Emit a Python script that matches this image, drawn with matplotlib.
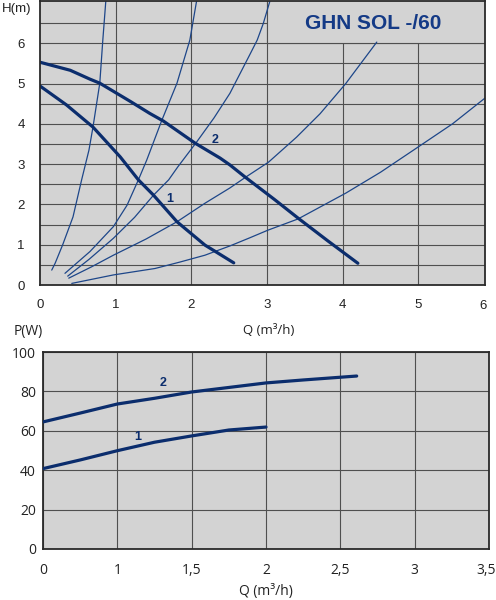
import numpy as np
import matplotlib
matplotlib.use("Agg")
import matplotlib.pyplot as plt
from matplotlib.patches import Rectangle
from matplotlib.transforms import ScaledTranslation

# ---------------- data: H(Q) chart ----------------
pump1_q = [0, 0.35, 0.70, 1.06, 1.30, 1.50, 1.81, 2.18, 2.31, 2.56]
pump1_h = [4.94, 4.47, 3.92, 3.18, 2.61, 2.23, 1.57, 0.99, 0.84, 0.55]
pump2_q = [0, 0.4, 0.66, 0.79, 1.2, 1.45, 1.63, 2.05, 2.38, 2.51, 2.71, 3.1, 3.41, 3.8, 4.2]
pump2_h = [5.53, 5.33, 5.11, 5.01, 4.55, 4.26, 4.07, 3.52, 3.15, 2.98, 2.68, 2.12, 1.66, 1.1, 0.54]

sysA_q = [0.155, 0.20, 0.30, 0.436, 0.55, 0.647, 0.70, 0.79, 0.83, 0.87]
sysA_h = [0.37, 0.54, 1.0, 1.69, 2.61, 3.35, 3.92, 5.01, 6.08, 7.06]
sysB_q = [0.33, 0.66, 0.97, 1.15, 1.30, 1.41, 1.61, 1.81, 1.98, 2.07]
sysB_h = [0.29, 0.83, 1.45, 1.98, 2.61, 3.1, 4.09, 5.01, 6.08, 7.06]
sysC_q = [0.366, 0.65, 0.97, 1.25, 1.50, 1.70, 1.82, 2.07, 2.30, 2.51, 2.60, 2.77, 2.87, 2.95, 3.04]
sysC_h = [0.22, 0.64, 1.16, 1.68, 2.23, 2.61, 2.93, 3.55, 4.15, 4.76, 5.09, 5.71, 6.08, 6.49, 7.06]
sysD_q = [0.38, 0.68, 0.97, 1.40, 1.81, 2.18, 2.51, 2.72, 3.02, 3.39, 3.70, 4.04, 4.45]
sysD_h = [0.17, 0.45, 0.74, 1.14, 1.57, 2.03, 2.41, 2.68, 3.05, 3.67, 4.25, 5.0, 6.03]
sysE_q = [0.42, 0.97, 1.52, 1.85, 2.18, 2.51, 2.77, 3.01, 3.41, 4.04, 4.5, 5.0, 5.45, 5.88]
sysE_h = [0.04, 0.25, 0.41, 0.57, 0.74, 0.97, 1.17, 1.36, 1.64, 2.28, 2.8, 3.43, 4.0, 4.64]

h_xticks = [0, 1, 2, 3, 4, 5]
h_yticks = [0, 1, 2, 3, 4, 5, 6]
title_text = "GHN SOL -/60"

# ---------------- data: P(Q) chart ----------------
power1_q = [0, 0.5, 1.0, 1.25, 1.5, 1.75, 2.0]
power1_p = [40.8, 45.2, 49.9, 54.2, 57.4, 60.4, 61.9]
power2_q = [0, 0.5, 1.0, 1.25, 1.5, 1.75, 2.0, 2.25, 2.61]
power2_p = [64.5, 69.0, 73.6, 76.5, 79.7, 82.0, 84.3, 85.8, 87.8]
p_xticks = [0, 1, 1.5, 2, 2.5, 3, 3.5]
p_xlabels = ["0", "1", "1,5", "2", "2,5", "3", "3,5"]
p_yticks = [0, 20, 40, 60, 80, 100]

# ---------------- style ----------------
BG = "#d3d3d3"
GRID = "#4f4f4f"
THICK = "#0b2d6d"
THIN = "#1d4689"
TXT = "#222222"

fig = plt.figure(figsize=(4.96, 6.0), dpi=100)
fig.patch.set_facecolor("white")

# ================= top chart =================
ax = fig.add_axes([40/496, 1-285/600, 445/496, 284/600])
ax.set_facecolor(BG)
ax.set_xlim(0, 5.88)
ax.set_ylim(0, 7.05)
ax.set_xticks(h_xticks)
ax.set_yticks(h_yticks)
for x in [1, 2, 3, 4, 5]:
    ax.axvline(x, color=GRID, lw=0.8, zorder=1)
for y in np.arange(0.5, 7.0, 0.5):
    ax.axhline(y, color=GRID, lw=0.8, zorder=1)
# title box
ax.add_patch(Rectangle((3, 6), 3, 1.2, facecolor=BG, edgecolor=GRID, lw=0.8, zorder=1.5))
ax.text(4.40, 6.5, title_text, ha="center", va="center",
        fontsize=15, fontweight="bold", color="#143a86", family="Liberation Sans", zorder=5)

for q, h in [(sysA_q, sysA_h), (sysB_q, sysB_h), (sysC_q, sysC_h), (sysD_q, sysD_h), (sysE_q, sysE_h)]:
    ax.plot(q, h, color=THIN, lw=0.9, zorder=3, solid_capstyle="round", solid_joinstyle="round")
ax.plot(pump1_q, pump1_h, color=THICK, lw=2.3, zorder=4, solid_capstyle="round", solid_joinstyle="round")
ax.plot(pump2_q, pump2_h, color=THICK, lw=2.3, zorder=4, solid_capstyle="round", solid_joinstyle="round")
ax.text(1.72, 2.13, "1", color=THICK, fontsize=9, fontweight="bold", ha="center", va="center", family="Liberation Sans")
ax.text(2.31, 3.6, "2", color=THICK, fontsize=9, fontweight="bold", ha="center", va="center", family="Liberation Sans")

for s in ax.spines.values():
    s.set_color("#2a2a2a")
    s.set_linewidth(1.3)
    s.set_zorder(6)
ax.tick_params(length=0, labelsize=9.5, colors=TXT)
ax.tick_params(axis="x", pad=10)
ax.tick_params(axis="y", pad=11)
for lab in ax.get_xticklabels() + ax.get_yticklabels():
    lab.set_family("Liberation Sans")
ax.text(0.995, -21/284, "6", transform=ax.transAxes, ha="center", va="center",
        fontsize=9.5, color=TXT, family="Liberation Sans")

fig.text(17/496, 1-9/600, "H(m)", ha="center", va="center", fontsize=9.5, color=TXT, family="Liberation Sans")
fig.text(269/496, 1-330/600, "Q (m³/h)", ha="center", va="center", fontsize=9.5, color=TXT, family="Open Sans")

# ================= bottom chart =================
def fwd(q):
    q = np.asarray(q, dtype=float)
    return np.where(q <= 1, q, 2*q - 1)

def inv(p):
    p = np.asarray(p, dtype=float)
    return np.where(p <= 1, p, (p + 1) / 2)

bx = fig.add_axes([43/496, 1-549/600, 446/496, 197/600])
bx.set_facecolor(BG)
bx.set_xscale("function", functions=(fwd, inv))
bx.set_xlim(0, 3.5)
bx.set_ylim(0, 100)
bx.set_xticks(p_xticks)
bx.set_xticklabels(p_xlabels)
bx.set_yticks(p_yticks)
bx.grid(True, color=GRID, lw=0.8, zorder=1)
bx.set_axisbelow(True)
bx.plot(power1_q, power1_p, color=THICK, lw=2.3, zorder=4, solid_capstyle="round", solid_joinstyle="round")
bx.plot(power2_q, power2_p, color=THICK, lw=2.3, zorder=4, solid_capstyle="round", solid_joinstyle="round")
bx.text(1.14, 57, "1", color=THICK, fontsize=9, fontweight="bold", ha="center", va="center", family="Liberation Sans")
bx.text(1.31, 84.3, "2", color=THICK, fontsize=9, fontweight="bold", ha="center", va="center", family="Liberation Sans")
for s in bx.spines.values():
    s.set_color("#2a2a2a")
    s.set_linewidth(1.3)
bx.tick_params(length=0, labelsize=10, colors=TXT)
bx.tick_params(axis="x", pad=10)
bx.tick_params(axis="y", pad=5)
for lab in bx.get_xticklabels() + bx.get_yticklabels():
    lab.set_family("Open Sans")
last = bx.get_xticklabels()[-1]
last.set_horizontalalignment("right")
last.set_transform(last.get_transform() + ScaledTranslation(5/72, 0, fig.dpi_scale_trans))

fig.text(28/496, 1-332/600, "P(W)", ha="center", va="center", fontsize=10, color=TXT, family="Open Sans")
fig.text(266/496, 1-592/600, "Q (m³/h)", ha="center", va="center", fontsize=10, color=TXT, family="Open Sans")

fig.savefig("out.png", dpi=100, facecolor="white")
